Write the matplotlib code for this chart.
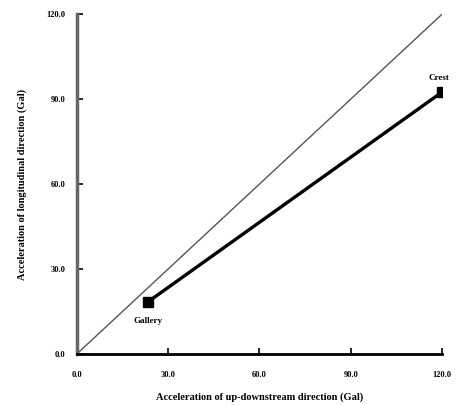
import matplotlib
matplotlib.use('Agg')
import matplotlib.pyplot as plt

# upstream/downstream vs longitudinal acceleration (Gal)
locations = ['Gallery', 'Crest']
acc_updown = [23.5, 120.0]
acc_long = [18.5, 92.5]
ticks = [0, 30, 60, 90, 120]

plt.rcParams['font.family'] = ['Liberation Serif', 'DejaVu Serif']
plt.rcParams['font.weight'] = 'bold'

fig = plt.figure(figsize=(4.6, 4.05), dpi=100)
ax = fig.add_axes([0.167, 0.126, 0.794, 0.839])

# 1:1 reference line
ax.plot([0, 120], [0, 120], color='#555555', linewidth=1.0)
ax.plot(acc_updown, acc_long, color='black', linewidth=2.4,
        marker='s', markersize=7, markerfacecolor='black')

ax.annotate(locations[0], (acc_updown[0], acc_long[0]), xytext=(0, -14),
            textcoords='offset points', ha='center', va='center',
            fontsize=6.5, fontweight='bold')
ax.annotate(locations[1], (acc_updown[1], acc_long[1]), xytext=(-2, 10),
            textcoords='offset points', ha='center', va='center',
            fontsize=6.5, fontweight='bold')

ax.set_xlim(0, 120)
ax.set_ylim(0, 120)
ax.set_xticks(ticks)
ax.set_yticks(ticks)
ax.set_xticklabels([f'{t:.1f}' for t in ticks])
ax.set_yticklabels([f'{t:.1f}' for t in ticks])
ax.tick_params(direction='in', length=4, width=1.2, labelsize=6)
ax.tick_params(axis='x', pad=12)
ax.tick_params(axis='y', pad=8)

for s in ['top', 'right']:
    ax.spines[s].set_visible(False)
ax.spines['left'].set_linewidth(2.5)
ax.spines['left'].set_color('#666666')
ax.spines['bottom'].set_linewidth(2.0)
ax.spines['bottom'].set_color('black')

ax.set_xlabel('Acceleration of up-downstream direction (Gal)', fontsize=7.5,
              fontweight='bold', labelpad=10)
ax.set_ylabel('Acceleration of longitudinal direction (Gal)', fontsize=7.5,
              fontweight='bold', labelpad=14)

fig.savefig('out.png', dpi=100)
